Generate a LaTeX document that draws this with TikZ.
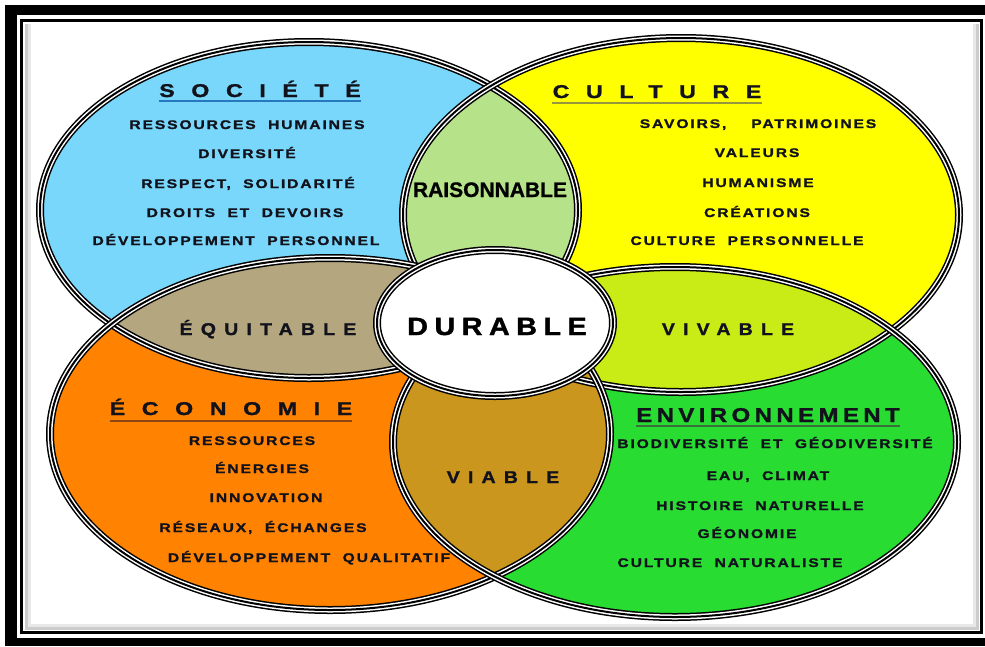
\documentclass[tikz,border=0pt]{standalone}
\usepackage{fontspec}
\setmainfont{Liberation Sans}
\newfontfamily\itemfont{Liberation Sans}[FakeStretch=1.25,LetterSpace=15,WordSpace=2,FakeBold=1.4]
\newfontfamily\titlefont{Liberation Sans}[FakeStretch=1.25,LetterSpace=90,FakeBold=1.2]
\newfontfamily\envfont{Liberation Sans}[FakeStretch=1.2,LetterSpace=22,FakeBold=1.2]
\newfontfamily\raisfont{Liberation Sans}[FakeBold=0.8]
\newfontfamily\durfont{Liberation Sans}[FakeStretch=1.15,LetterSpace=26,FakeBold=1.4]
\newfontfamily\lensfont{Liberation Sans}[FakeStretch=1.15,LetterSpace=48,FakeBold=1.3]
\definecolor{cS}{RGB}{120,215,250}
\definecolor{cC}{RGB}{255,255,0}
\definecolor{cE}{RGB}{255,130,0}
\definecolor{cN}{RGB}{40,220,50}
\definecolor{cR}{RGB}{182,226,138}
\definecolor{cQ}{RGB}{180,166,126}
\definecolor{cV}{RGB}{202,236,22}
\definecolor{cB}{RGB}{202,150,30}
\definecolor{txt}{RGB}{18,18,28}
\definecolor{uS}{RGB}{40,120,190}
\definecolor{uC}{RGB}{150,150,60}
\definecolor{uE}{RGB}{140,70,20}
\definecolor{uN}{RGB}{60,110,60}
\newcommand\ES{(309,210) ellipse [x radius=269pt, y radius=168pt]}
\newcommand\EC{(681,215) ellipse [x radius=278pt, y radius=177pt]}
\newcommand\EE{(330,434) ellipse [x radius=280pt, y radius=176pt]}
\newcommand\EN{(675,442) ellipse [x radius=282pt, y radius=175pt]}
\newcommand\ED{(495,323) ellipse [x radius=118pt, y radius=73pt]}
\begin{document}
\begin{tikzpicture}[x=1pt,y=-1pt,
  ring/.style={draw=black, line width=8pt,
    postaction={draw=white, line width=5pt},
    postaction={draw=black, line width=2pt}},
  item/.style={anchor=base, inner sep=0pt, text=txt,
    font=\itemfont\bfseries\fontsize{12.5}{14}\selectfont},
  title/.style={anchor=base, inner sep=0pt, text=txt,
    font=\titlefont\bfseries\fontsize{18.5}{20}\selectfont},
  lens/.style={anchor=base, inner sep=0pt, text=txt,
    font=\lensfont\bfseries\fontsize{17}{20}\selectfont},
  uline/.style={line width=2.6pt}]
\useasboundingbox (0,0) rectangle (985,646);
\fill[white] (0,0) rectangle (985,646);
% frame
\fill[black] (5,5) rectangle (985,15);
\fill[black] (5,5) rectangle (17,646);
\fill[black] (5,638) rectangle (985,646);
\draw[gray!18, line width=3pt] (29,24) -- (29,625) -- (974,625) -- (974,24);
\draw[gray!40, line width=3pt] (26,24) -- (26,628) -- (977,628) -- (977,24);
\draw[black, line width=3pt] (21.5,20.5) rectangle (981.5,632.5);
% ellipses
\fill[cS] \ES;
\fill[cC] \EC;
\fill[cE] \EE;
\fill[cN] \EN;
\begin{scope}
  \clip \ES;
  \fill[cR] \EC;
  \fill[cQ] \EE;
\end{scope}
\begin{scope}
  \clip \EN;
  \fill[cV] \EC;
  \fill[cB] \EE;
\end{scope}
\draw[ring] \ES;
\draw[ring] \EC;
\draw[ring] \EE;
\draw[ring] \EN;
\fill[white] \ED;
\draw[ring] \ED;
% titles
\node[title] (tS) at (260,97) {SOCIÉTÉ};
\node[title] (tC) at (657,98) {CULTURE};
\node[title] (tE) at (231,415) {ÉCONOMIE};
\node[anchor=base, inner sep=0pt, text=txt, font=\envfont\bfseries\fontsize{20}{22}\selectfont] (tN) at (768,422) {ENVIRONNEMENT};
\draw[uline, uS] ([yshift=-4pt]tS.base west) -- ([yshift=-4pt]tS.base east);
\draw[uline, uC] ([yshift=-5pt]tC.base west) -- ([yshift=-5pt]tC.base east);
\draw[uline, uE] ([yshift=-6pt]tE.base west) -- ([yshift=-6pt]tE.base east);
\draw[uline, uN] ([yshift=-4pt]tN.base west) -- ([yshift=-4pt]tN.base east);
% Société items
\node[item] (s1) at (247,129) {RESSOURCES HUMAINES};
\node[item] (s2) at (247,158) {DIVERSITÉ};
\node[item] (s3) at (248,188) {RESPECT, SOLIDARITÉ};
\node[item] (s4) at (245,217) {DROITS ET DEVOIRS};
\node[item] (s5) at (236,245) {DÉVELOPPEMENT PERSONNEL};
% Culture items
\node[item] (c1) at (758,128) {SAVOIRS, \ PATRIMOINES};
\node[item] (c2) at (757,157) {VALEURS};
\node[item] (c3) at (758,187) {HUMANISME};
\node[item] (c4) at (757,217) {CRÉATIONS};
\node[item] (c5) at (747,245) {CULTURE PERSONNELLE};
% Économie items
\node[item] (e1) at (252,445) {RESSOURCES};
\node[item] (e2) at (262,473) {ÉNERGIES};
\node[item] (e3) at (266,502) {INNOVATION};
\node[item] (e4) at (263,532) {RÉSEAUX, ÉCHANGES};
\node[item] (e5) at (309,562) {DÉVELOPPEMENT QUALITATIF};
% Environnement items
\node[item] (n1) at (775,448) {BIODIVERSITÉ ET GÉODIVERSITÉ};
\node[item] (n2) at (768,480) {EAU, CLIMAT};
\node[item] (n3) at (760,510) {HISTOIRE NATURELLE};
\node[item] (n4) at (747,538) {GÉONOMIE};
\node[item] (n5) at (730,567) {CULTURE NATURALISTE};
% lens labels
\node[anchor=base, inner sep=0pt, text=black, font=\raisfont\bfseries\fontsize{21}{24}\selectfont] (lR) at (490,197) {RAISONNABLE};
\node[lens] (lQ) at (268,335) {ÉQUITABLE};
\node[lens] (lV) at (728,335) {VIVABLE};
\node[lens] (lB) at (503,483) {VIABLE};
\node[anchor=base, inner sep=0pt, text=black, font=\durfont\bfseries\fontsize{25}{28}\selectfont] (lD) at (497,335) {DURABLE};
\end{tikzpicture}
\end{document}
